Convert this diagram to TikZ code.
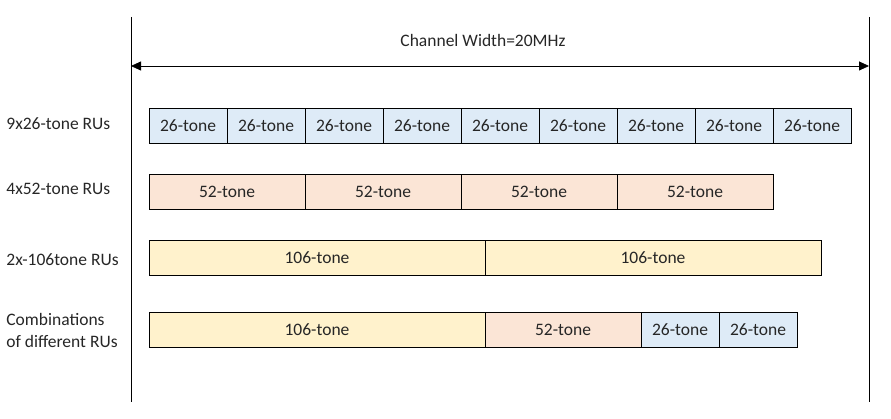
\documentclass[tikz,border=0pt]{standalone}
\usepackage{fontspec}
\setmainfont{Carlito}
\usetikzlibrary{arrows.meta,positioning}
\definecolor{rublue}{HTML}{DEEBF7}
\definecolor{rupeach}{HTML}{FBE5D6}
\definecolor{ruyellow}{HTML}{FFF2CC}
\definecolor{rutext}{HTML}{262626}
\tikzset{
  rubox/.style={draw, minimum height=35pt, inner sep=0pt, outer sep=0pt,
    anchor=west, text=rutext},
  rulabel/.style={anchor=west, align=left, inner sep=0pt, text=rutext,
    font=\fontsize{17.5}{21.5}\selectfont}
}

\begin{document}
\begin{tikzpicture}[x=1pt,y=-1pt,line width=0.8pt,
  font=\fontsize{17.5}{21}\selectfont]
\useasboundingbox (0,0) rectangle (891,419);
% channel borders
\coordinate (lt) at (131,17);
\coordinate (lb) at (131,402);
\coordinate (rt) at (869,17);
\coordinate (rb) at (869,402);
\draw (lt) -- (lb);
\draw (rt) -- (rb);
\coordinate (wl) at (131,66);
\coordinate (wr) at (869,66);
\draw[{Triangle[length=10pt,width=9pt]}-{Triangle[length=10pt,width=9pt]}] (wl) -- (wr);
\node[text=rutext] (width) at (483,40) {Channel Width=20MHz};
% row labels
\node[rulabel] (l26) at (6,124) {9x26-tone RUs};
\node[rulabel] (l52) at (6,189) {4x52-tone RUs};
\node[rulabel] (l106) at (6,260) {2x-106tone RUs};
\node[rulabel] (lmix) at (6,330.5) {Combinations\\of different RUs};
% 26-tone
\foreach \i in {1,...,9}
  \node[rubox, fill=rublue, minimum width=78pt] (a\i) at ({149+(\i-1)*78},125.5) {26-tone};
% 52-tone
\foreach \i in {1,...,4}
  \node[rubox, fill=rupeach, minimum width=156pt] (b\i) at ({149+(\i-1)*156},191.5) {52-tone};
% 106-tone
\foreach \i in {1,2}
  \node[rubox, fill=ruyellow, minimum width=336pt] (c\i) at ({149+(\i-1)*336},257.5) {106-tone};
% mixed
\node[rubox, fill=ruyellow, minimum width=336pt] (d1) at (149,329.5) {106-tone};
\node[rubox, fill=rupeach, minimum width=156pt] (d2) at (485,329.5) {52-tone};
\node[rubox, fill=rublue, minimum width=78pt] (d3) at (641,329.5) {26-tone};
\node[rubox, fill=rublue, minimum width=78pt] (d4) at (719,329.5) {26-tone};
\end{tikzpicture}
\end{document}
